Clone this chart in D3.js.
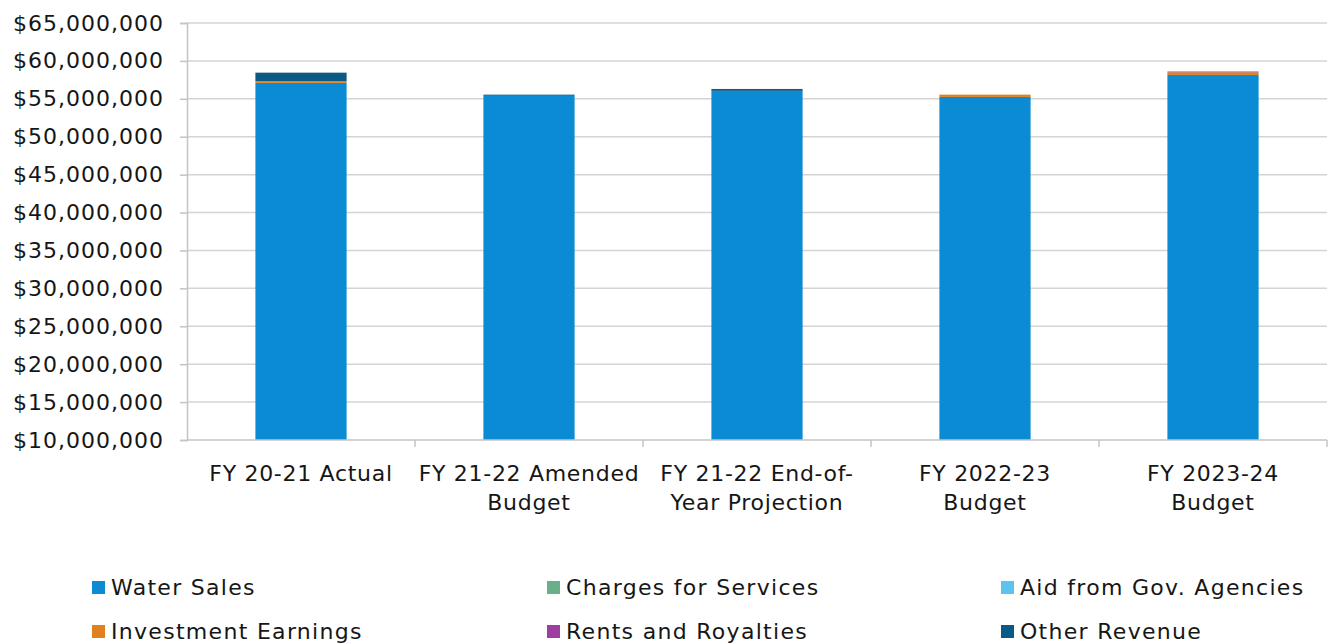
<!DOCTYPE html>
<html>
<head>
<meta charset="utf-8">
<script src="https://cdn.jsdelivr.net/npm/d3@7"></script>
<style>
  html, body { margin: 0; padding: 0; background: #fff; }
  svg { display: block; font-family: "DejaVu Sans", "Noto Sans", sans-serif; }
</style>
</head>
<body>
<svg id="chart" width="1338" height="644"></svg>
<script>
// Fiscal-year columns (line breaks marked with \n)
const categories = [
  "FY 20-21 Actual",
  "FY 21-22 Amended\nBudget",
  "FY 21-22 End-of-\nYear Projection",
  "FY 2022-23\nBudget",
  "FY 2023-24\nBudget"
];

// Revenue sources, stacked bottom to top
const seriesNames = [
  "Water Sales",
  "Charges for Services",
  "Aid from Gov. Agencies",
  "Investment Earnings",
  "Rents and Royalties",
  "Other Revenue"
];

const waterSales        = [57100000, 55400000, 56050000, 55250000, 58150000];
const chargesForService = [0, 0, 0, 0, 0];
const aidFromGov        = [0, 0, 0, 0, 0];
const investmentEarn    = [250000, 0, 0, 300000, 350000];
const rentsRoyalties    = [0, 0, 0, 0, 100000];
const otherRevenue      = [1100000, 150000, 250000, 0, 0];

const yTicks = [10000000, 15000000, 20000000, 25000000, 30000000, 35000000,
                40000000, 45000000, 50000000, 55000000, 60000000, 65000000];

const colors = ["#0a8bd3", "#6aae8c", "#5cc3ee", "#e0801e", "#9c3fa0", "#0b5985"];

const FONT = '"DejaVu Sans", "Noto Sans", sans-serif';
const TEXT_COLOR = "#161616";

const seriesValues = [waterSales, chargesForService, aidFromGov, investmentEarn, rentsRoyalties, otherRevenue];
const rows = categories.map((c, i) => {
  const r = { category: c };
  seriesNames.forEach((s, j) => { r[s] = seriesValues[j][i]; });
  return r;
});

const svg = d3.select("#chart");
const plotLeft = 187, plotRight = 1327, plotTop = 23, plotBottom = 440;

const x = d3.scaleBand().domain(categories).range([plotLeft, plotRight]).paddingInner(0.6).paddingOuter(0.3);
const xOuter = d3.scaleBand().domain(categories).range([plotLeft, plotRight]);
// Axis starts at $10M, so bar bases are clamped to the bottom of the plot
const y = d3.scaleLinear().domain([10000000, 65000000]).range([plotBottom, plotTop]).clamp(true);

// Horizontal gridlines
svg.append("g")
  .selectAll("line")
  .data(yTicks.slice(1))
  .join("line")
  .attr("x1", plotLeft).attr("x2", plotRight)
  .attr("y1", d => y(d)).attr("y2", d => y(d))
  .attr("stroke", "#d4d4d4").attr("stroke-width", 1.5);

// Stacked bars
const stack = d3.stack().keys(seriesNames);
const layers = stack(rows);
svg.append("g")
  .selectAll("g")
  .data(layers)
  .join("g")
  .attr("fill", (d, i) => colors[i])
  .selectAll("rect")
  .data(d => d)
  .join("rect")
  .attr("x", d => x(d.data.category))
  .attr("width", x.bandwidth())
  .attr("y", d => y(d[1]))
  .attr("height", d => Math.max(0, y(d[0]) - y(d[1])));

// Y axis
const fmt = d => "$" + d3.format(",")(d);
const yAxis = svg.append("g")
  .attr("transform", `translate(${plotLeft},0)`)
  .call(d3.axisLeft(y).tickValues(yTicks).tickFormat(fmt).tickSize(7).tickPadding(16))
  .attr("font-family", FONT)
  .attr("font-size", 22);
yAxis.select(".domain").attr("stroke", "#c4c4c4").attr("stroke-width", 1.5);
yAxis.selectAll(".tick line").attr("stroke", "#c4c4c4").attr("stroke-width", 1.5);
yAxis.selectAll("text")
  .attr("fill", TEXT_COLOR)
  .style("letter-spacing", "1px");

// X axis baseline and category dividers
const xAxisG = svg.append("g").attr("transform", `translate(0,${plotBottom})`);
xAxisG.append("line")
  .attr("x1", plotLeft).attr("x2", plotRight)
  .attr("stroke", "#c4c4c4").attr("stroke-width", 1.5);
xAxisG.selectAll("line.div")
  .data(categories.slice(1).concat(["end"]))
  .join("line")
  .attr("class", "div")
  .attr("x1", (d, i) => plotLeft + xOuter.step() * (i + 1))
  .attr("x2", (d, i) => plotLeft + xOuter.step() * (i + 1))
  .attr("y1", 0).attr("y2", 7)
  .attr("stroke", "#c4c4c4").attr("stroke-width", 1.5);

// Category labels
svg.append("g")
  .selectAll("text")
  .data(categories)
  .join("text")
  .attr("x", d => x(d) + x.bandwidth() / 2)
  .attr("y", 481)
  .attr("text-anchor", "middle")
  .attr("fill", TEXT_COLOR)
  .style("font-size", "22px")
  .style("letter-spacing", "0.7px")
  .each(function (d) {
    const lines = d.split("\n");
    d3.select(this).selectAll("tspan")
      .data(lines)
      .join("tspan")
      .attr("x", x(d) + x.bandwidth() / 2)
      .attr("dy", (l, i) => i === 0 ? 0 : 29)
      .text(l => l);
  });

// Legend: three columns, two rows
const legendX = [92, 547, 1001];
const legendY = [595, 639];
const legend = svg.append("g")
  .selectAll("g")
  .data(seriesNames)
  .join("g")
  .attr("transform", (d, i) => `translate(${legendX[i % 3]},${legendY[Math.floor(i / 3)]})`);
legend.append("rect")
  .attr("x", 0).attr("y", -14)
  .attr("width", 13).attr("height", 13)
  .attr("fill", (d, i) => colors[i]);
legend.append("text")
  .attr("x", 19).attr("y", 0)
  .attr("fill", TEXT_COLOR)
  .style("font-size", "22px")
  .style("letter-spacing", "1.3px")
  .text(d => d);
</script>
</body>
</html>
